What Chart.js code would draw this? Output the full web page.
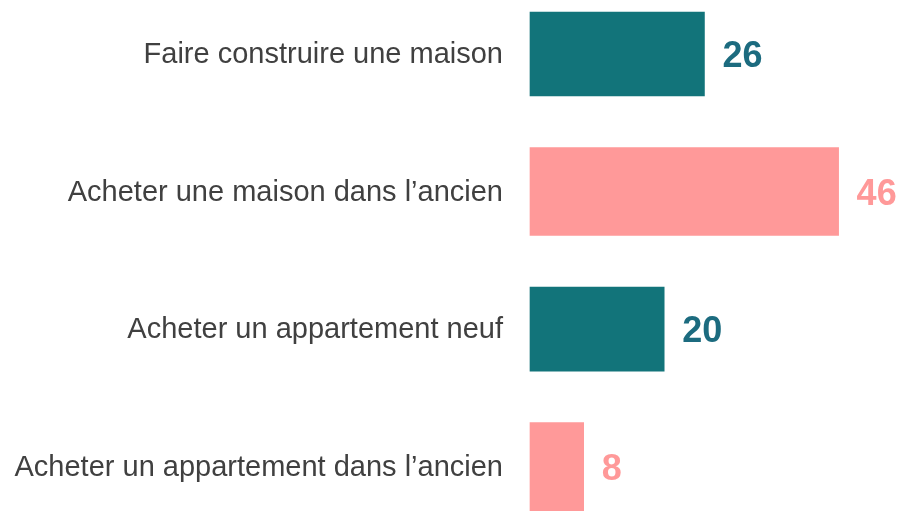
<!DOCTYPE html>
<html>
<head>
<meta charset="utf-8">
<script src="https://cdn.jsdelivr.net/npm/chart.js@4.4.0/dist/chart.umd.min.js"></script>
<style>
    html, body { margin: 0; padding: 0; background: #ffffff; }
    #wrap { width: 899px; height: 511px; position: relative; }
</style>
</head>
<body>
<div id="wrap"><canvas id="chart"></canvas></div>
<script>
// Data
const categories = [
    'Faire construire une maison',
    'Acheter une maison dans l\u2019ancien',
    'Acheter un appartement neuf',
    'Acheter un appartement dans l\u2019ancien'
];
const values = [26, 46, 20, 8];
const isOld = [false, true, false, true]; // "ancien" rows are pink

const TEAL = '#12747a';
const TEAL_TEXT = '#1c6b7f';
const PINK = '#ff9999';
const FONT = '"Liberation Sans", Arial, sans-serif';

const newData = values.map((v, i) => isOld[i] ? null : v);
const oldData = values.map((v, i) => isOld[i] ? v : null);

// Draw value labels just after each bar end
const valueLabels = {
    id: 'valueLabels',
    afterDatasetsDraw(chart) {
        const ctx = chart.ctx;
        ctx.save();
        ctx.font = 'bold 36px ' + FONT;
        ctx.textAlign = 'left';
        ctx.textBaseline = 'alphabetic';
        chart.data.datasets.forEach((ds, di) => {
            const meta = chart.getDatasetMeta(di);
            meta.data.forEach((bar, i) => {
                const v = ds.data[i];
                if (v === null) return;
                ctx.fillStyle = ds.labelColor;
                ctx.fillText(String(v), bar.x + 18, bar.y + 13);
            });
        });
        ctx.restore();
    }
};

new Chart(document.getElementById('chart').getContext('2d'), {
    type: 'bar',
    data: {
        labels: categories,
        datasets: [
            {
                label: 'neuf',
                data: newData,
                backgroundColor: TEAL,
                labelColor: TEAL_TEXT,
                barThickness: 84,
                clip: false
            },
            {
                label: 'ancien',
                data: oldData,
                backgroundColor: PINK,
                labelColor: PINK,
                barThickness: 88,
                clip: false
            }
        ]
    },
    options: {
        indexAxis: 'y',
        responsive: true,
        maintainAspectRatio: false,
        animation: false,
        layout: {
            padding: { top: 54, bottom: 41, left: 0, right: 0 }
        },
        datasets: {
            bar: { grouped: false, skipNull: true }
        },
        plugins: {
            legend: { display: false },
            tooltip: { enabled: false }
        },
        scales: {
            x: {
                display: false,
                min: 0,
                max: 55
            },
            y: {
                offset: false,
                grid: { display: false, drawTicks: false },
                border: { display: false },
                ticks: {
                    color: '#404040',
                    padding: 27,
                    labelOffset: 1,
                    font: { family: FONT, size: 29 }
                },
                afterFit(scale) {
                    scale.width = 530;
                }
            }
        }
    },
    plugins: [valueLabels]
});
</script>
</body>
</html>
